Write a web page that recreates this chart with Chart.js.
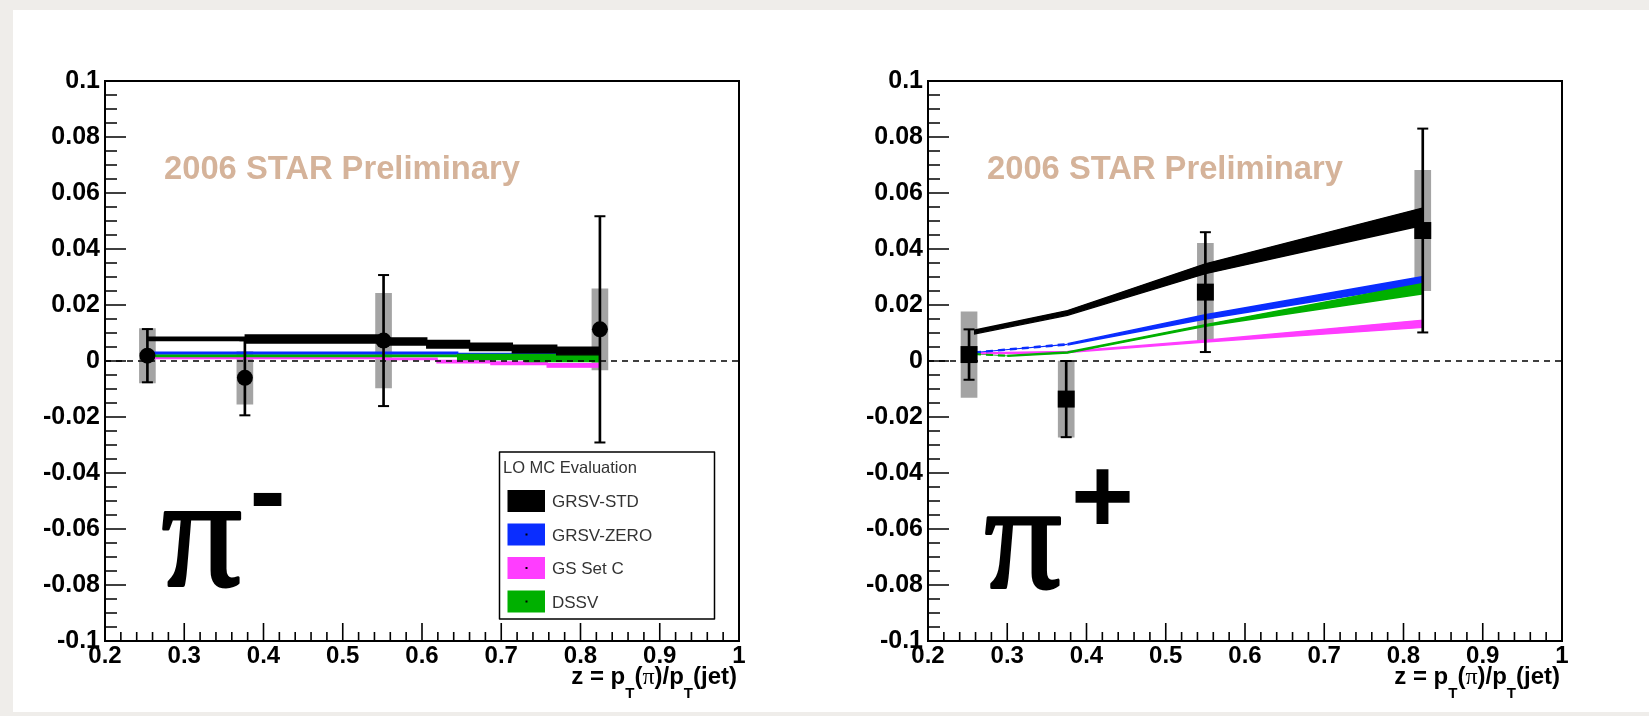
<!DOCTYPE html>
<html><head><meta charset="utf-8">
<script src="https://cdn.jsdelivr.net/npm/chart.js@4.4.1/dist/chart.umd.min.js"></script>
<style>
html,body{margin:0;padding:0;}
body{width:1649px;height:716px;background:#efedea;position:relative;overflow:hidden;}
#card{position:absolute;left:13px;top:10px;width:1636px;height:702px;background:#fff;}
canvas{position:absolute;top:0;}
#c1{left:0;width:830px;height:716px;}
#c2{left:820px;width:829px;height:716px;}
</style></head><body>
<div id="card"></div>
<canvas id="c1" width="830" height="716"></canvas>
<canvas id="c2" width="829" height="716"></canvas>
<script>
// ---------- axis ticks ----------
const yTickValues = [-0.1,-0.08,-0.06,-0.04,-0.02,0,0.02,0.04,0.06,0.08,0.1];
const yTickLabels = ['-0.1','-0.08','-0.06','-0.04','-0.02','0','0.02','0.04','0.06','0.08','0.1'];
const xTickValues = [0.2,0.3,0.4,0.5,0.6,0.7,0.8,0.9,1.0];
const xTickLabels = ['0.2','0.3','0.4','0.5','0.6','0.7','0.8','0.9','1'];

// ---------- pi- data ----------
const piMinusZ    = [0.2535, 0.3765, 0.5515, 0.8245];
const piMinusA    = [0.0019, -0.0060, 0.0073, 0.0113];
const piMinusStat = [0.0095, 0.0134, 0.0234, 0.0404];
const piMinusSys  = [0.0097, 0.0094, 0.0169, 0.0145];

// pi- theory (step bands)
const mGrsvStdX  = [0.254, 0.377, 0.552, 0.606, 0.660, 0.714, 0.770, 0.825];
const mGrsvStdHi = [0.0085, 0.0093, 0.0082, 0.0073, 0.0064, 0.0056, 0.0049, 0.0049];
const mGrsvStdLo = [0.0073, 0.0064, 0.0057, 0.0046, 0.0037, 0.0029, 0.0022, 0.0022];
const mGrsvZeroX  = [0.254, 0.645, 0.825];
const mGrsvZeroHi = [0.0031, 0.0027, 0.0027];
const mGrsvZeroLo = [0.0025, 0.0021, 0.0021];
const mGsCX  = [0.254, 0.552, 0.619, 0.687, 0.758, 0.825];
const mGsCHi = [0.0015, 0.0010, 0.0002, -0.0003, -0.0010, -0.0010];
const mGsCLo = [0.0009, 0.0005, -0.0006, -0.0013, -0.0022, -0.0022];
const mDssvX  = [0.254, 0.645, 0.730, 0.825];
const mDssvHi = [0.0021, 0.0023, 0.0023, 0.0023];
const mDssvLo = [0.0016, 0.0005, -0.0002, -0.0002];

// ---------- pi+ data ----------
const piPlusZ    = [0.2518, 0.3744, 0.5500, 0.8243];
const piPlusA    = [0.0023, -0.0136, 0.0246, 0.0466];
const piPlusStat = [0.0090, 0.0136, 0.0214, 0.0364];
const piPlusSys  = [0.0153, 0.0136, 0.0174, 0.0215];

// pi+ theory (bands)
const pGrsvStdX  = [0.258, 0.376, 0.550, 0.825];
const pGrsvStdHi = [0.0110, 0.0180, 0.0347, 0.0547];
const pGrsvStdLo = [0.0096, 0.0163, 0.0312, 0.0485];
const pGrsvZeroX  = [0.258, 0.376, 0.550, 0.825];
const pGrsvZeroHi = [0.0032, 0.0062, 0.0165, 0.0302];
const pGrsvZeroLo = [0.0029, 0.0057, 0.0150, 0.0275];
const pGsCX  = [0.258, 0.376, 0.550, 0.825];
const pGsCHi = [0.0029, 0.0034, 0.0074, 0.0146];
const pGsCLo = [0.0025, 0.0030, 0.0068, 0.0120];
const pDssvX  = [0.258, 0.300, 0.376, 0.550, 0.825];
const pDssvHi = [0.0026, 0.0020, 0.0032, 0.0130, 0.0277];
const pDssvLo = [0.0024, 0.0017, 0.0028, 0.0124, 0.0240];

const legendTitle = 'LO MC Evaluation';
const legendLabels = ['GRSV-STD','GRSV-ZERO','GS Set C','DSSV'];
const prelimText = '2006 STAR Preliminary';

const C_STD = '#000000', C_ZERO = '#0a2dff', C_GSC = '#ff3dff', C_DSSV = '#00b000';
const C_SYS = '#a4a4a4';
const legendColors = [C_STD, C_ZERO, C_GSC, C_DSSV];

function pts(xs, ys){ return xs.map((x,i)=>({x, y: ys[i]})); }

function bandDatasets(xs, hi, lo, color, order, stepped, dashUntil){
  const seg = dashUntil ? {borderDash: c => (c.p1.parsed.x <= dashUntil + 1e-9 ? [7,5] : undefined)} : undefined;
  return [
    {type:'line', data: pts(xs, hi), borderColor: color, backgroundColor: color, borderWidth: 1.4,
     pointRadius: 0, fill: '+1', stepped: stepped, tension: 0, order: order, segment: seg},
    {type:'line', data: pts(xs, lo), borderColor: color, backgroundColor: color, borderWidth: 1.4,
     pointRadius: 0, fill: false, stepped: stepped, tension: 0, order: order - 0.5, segment: seg}
  ];
}

function dataDatasets(z, a, stat, sys, style, radius){
  return [
    {type:'bar', data: z.map((x,i)=>({x, y:[a[i]-sys[i], a[i]+sys[i]]})), backgroundColor: C_SYS,
     borderWidth: 0, barThickness: 16, grouped: false, order: 100},
    {type:'line', data: [{x:0.2,y:0},{x:1.0,y:0}], borderColor:'#000', borderWidth: 1.6,
     borderDash: [6,5], pointRadius: 0, fill: false, order: 60},
    {type:'bar', data: z.map((x,i)=>({x, y:[a[i]-stat[i], a[i]+stat[i]]})), backgroundColor: '#000',
     borderWidth: 0, barThickness: 2, grouped: false, order: 40},
    {type:'scatter', data: z.flatMap((x,i)=>[{x, y:a[i]-stat[i]},{x, y:a[i]+stat[i]}]),
     pointStyle:'line', pointRadius: 5.5, borderColor:'#000', borderWidth: 2, backgroundColor:'#000', order: 39},
    {type:'scatter', data: pts(z, a), pointStyle: style, pointRadius: radius, backgroundColor:'#000',
     borderColor:'#000', borderWidth: 0, order: 30}
  ];
}

const framePlugin = {
  id: 'frame',
  afterDatasetsDraw(chart){
    const {ctx, chartArea: a, scales: {x, y}} = chart;
    ctx.save();
    ctx.strokeStyle = '#000';
    ctx.lineWidth = 1.6;
    ctx.beginPath();
    for (let k = 0; k <= 40; k++){
      const py = y.getPixelForValue(-0.1 + k*0.005);
      const len = (k % 4 === 0) ? 21 : 12;
      ctx.moveTo(a.left, py); ctx.lineTo(a.left + len, py);
    }
    for (let k = 0; k <= 40; k++){
      const px = x.getPixelForValue(0.2 + k*0.02);
      const len = (k % 5 === 0) ? 18 : 9;
      ctx.moveTo(px, a.bottom); ctx.lineTo(px, a.bottom - len);
    }
    ctx.stroke();
    ctx.lineWidth = 2;
    ctx.strokeRect(a.left, a.top, a.right - a.left, a.bottom - a.top);
    ctx.restore();
  }
};

function inkFit(ctx, text, weight, family, left, top, target, byWidth, stroke){
  ctx.font = `${weight} 100px ${family}`;
  let m = ctx.measureText(text);
  const dim = byWidth ? (m.actualBoundingBoxLeft + m.actualBoundingBoxRight)
                      : (m.actualBoundingBoxAscent + m.actualBoundingBoxDescent);
  const size = 100 * target / dim;
  ctx.font = `${weight} ${size}px ${family}`;
  m = ctx.measureText(text);
  const x = left + m.actualBoundingBoxLeft, y = top + m.actualBoundingBoxAscent;
  ctx.fillText(text, x, y);
  if (stroke){ ctx.lineWidth = stroke; ctx.lineJoin = 'round'; ctx.strokeStyle = ctx.fillStyle; ctx.strokeText(text, x, y); }
}

function makeAnnot(opts){
  return {
    id: 'annot',
    afterDraw(chart){
      const {ctx, chartArea: a} = chart;
      ctx.save();
      ctx.textAlign = 'left'; ctx.textBaseline = 'alphabetic';
      // preliminary
      ctx.fillStyle = '#d5b39a';
      inkFit(ctx, prelimText, 'bold', '"Liberation Sans", Arial, sans-serif', a.left + 60, 155, 355, true);
      // pi symbol
      ctx.fillStyle = '#000';
      inkFit(ctx, 'π', 'normal', '"Liberation Serif", "Times New Roman", serif', a.left + 58.5, opts.piTop + 1.5, opts.piH - 3, false, 3);
      inkFit(ctx, opts.sign, 'bold', '"Liberation Sans", Arial, sans-serif', a.left + opts.signLeft, opts.signTop, opts.signW, true);
      // x axis title
      const parts = [
        ['z = p', 'bold 24px "Liberation Sans", Arial, sans-serif', 0],
        ['T', 'bold 15px "Liberation Sans", Arial, sans-serif', 14],
        ['(', 'bold 24px "Liberation Sans", Arial, sans-serif', 0],
        ['π', '24px "Liberation Serif", serif', 0],
        [')/p', 'bold 24px "Liberation Sans", Arial, sans-serif', 0],
        ['T', 'bold 15px "Liberation Sans", Arial, sans-serif', 14],
        ['(jet)', 'bold 24px "Liberation Sans", Arial, sans-serif', 0]
      ];
      ctx.fillStyle = '#000';
      let total = 0;
      parts.forEach(p => { ctx.font = p[1]; total += ctx.measureText(p[0]).width; });
      let xx = a.right - 2 - total;
      const base = 684;
      parts.forEach(p => { ctx.font = p[1]; ctx.fillText(p[0], xx, base + p[2]); xx += ctx.measureText(p[0]).width; });
      // legend
      if (opts.legend){
        const L = 499.5, T = 452, W = 215, H = 167;
        ctx.fillStyle = '#fff';
        ctx.fillRect(L, T, W, H);
        ctx.strokeStyle = '#000'; ctx.lineWidth = 1.5;
        ctx.strokeRect(L, T, W, H);
        ctx.fillStyle = '#333';
        ctx.font = '16.5px "Liberation Sans", Arial, sans-serif';
        ctx.fillText(legendTitle, 503, 473);
        legendLabels.forEach((lab, i) => {
          const top = 490 + i*33.5;
          ctx.fillStyle = legendColors[i];
          ctx.fillRect(507.5, top, 37.5, 22);
          if (i > 0){ ctx.fillStyle = '#000'; ctx.fillRect(525.5, top + 10, 2, 2); }
          ctx.fillStyle = '#333';
          ctx.font = '17px "Liberation Sans", Arial, sans-serif';
          ctx.fillText(lab, 552, top + 17);
        });
      }
      ctx.restore();
    }
  };
}

function makeChart(id, yWidth, padRight, datasets, annotOpts){
  return new Chart(document.getElementById(id), {
    type: 'scatter',
    data: { datasets },
    options: {
      responsive: false, animation: false, events: [],
      layout: { padding: { left: 0, right: padRight, top: 81, bottom: 716 - 641 - 45 } },
      plugins: { legend: {display:false}, tooltip: {enabled:false} },
      scales: {
        x: {
          type: 'linear', min: 0.2, max: 1.0, offset: false,
          grid: {display:false, drawTicks:false}, border: {display:false},
          afterBuildTicks: s => { s.ticks = xTickValues.map(v => ({value: v})); },
          afterFit: s => { s.height = 45; },
          ticks: { autoSkip:false, maxRotation:0, padding: 1, color:'#000',
                   font: {family:'"Liberation Sans", Arial, sans-serif', size: 24, weight:'bold'},
                   callback: (v, i) => xTickLabels[i] }
        },
        y: {
          type: 'linear', min: -0.1, max: 0.1,
          grid: {display:false, drawTicks:false}, border: {display:false},
          afterBuildTicks: s => { s.ticks = yTickValues.map(v => ({value: v})); },
          afterFit: s => { s.width = yWidth; },
          ticks: { autoSkip:false, padding: 5, color:'#000',
                   font: {family:'"Liberation Sans", Arial, sans-serif', size: 25, weight:'bold'},
                   callback: (v, i) => yTickLabels[i] }
        }
      }
    },
    plugins: [framePlugin, makeAnnot(annotOpts)]
  });
}

const leftSets = [].concat(
  dataDatasets(piMinusZ, piMinusA, piMinusStat, piMinusSys, 'circle', 8),
  bandDatasets(mGsCX, mGsCHi, mGsCLo, C_GSC, 90, 'before'),
  bandDatasets(mGrsvZeroX, mGrsvZeroHi, mGrsvZeroLo, C_ZERO, 88, 'before'),
  bandDatasets(mDssvX, mDssvHi, mDssvLo, C_DSSV, 86, 'before'),
  bandDatasets(mGrsvStdX, mGrsvStdHi, mGrsvStdLo, C_STD, 84, 'before')
);
const rightSets = [].concat(
  dataDatasets(piPlusZ, piPlusA, piPlusStat, piPlusSys, 'rect', 12),
  bandDatasets(pGsCX, pGsCHi, pGsCLo, C_GSC, 90, false),
  bandDatasets(pGrsvZeroX, pGrsvZeroHi, pGrsvZeroLo, C_ZERO, 88, false, 0.376),
  bandDatasets(pDssvX, pDssvHi, pDssvLo, C_DSSV, 86, false, 0.300),
  bandDatasets(pGrsvStdX, pGrsvStdHi, pGrsvStdLo, C_STD, 84, false)
);

makeChart('c1', 105, 830 - 739, leftSets,
  {piTop: 510, piH: 78, sign: '-', signLeft: 148.5, signTop: 491.7, signW: 29.4, legend: true});
makeChart('c2', 108, 829 - 742, rightSets,
  {piTop: 515, piH: 75, sign: '+', signLeft: 147, signTop: 469, signW: 55, legend: false});
</script>
</body></html>
